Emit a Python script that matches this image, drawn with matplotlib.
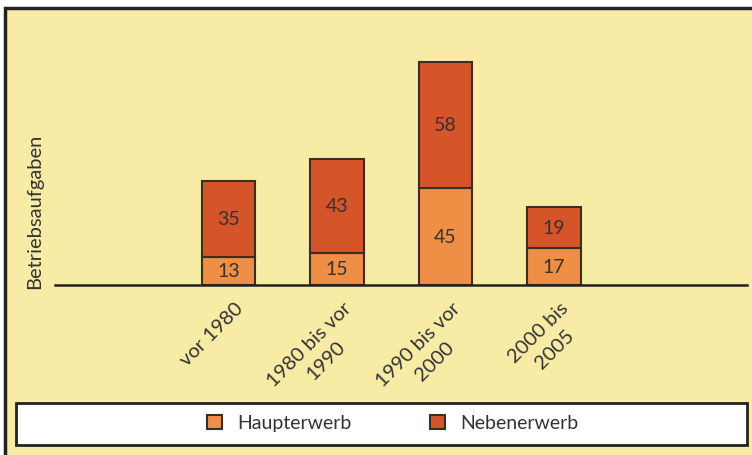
import matplotlib.pyplot as plt
import matplotlib.patches as patches
import matplotlib.transforms as mtransforms
import numpy as np

plt.rcParams['font.family'] = ['Lato', 'DejaVu Sans']

categories = ["vor 1980", "1980 bis vor\n1990", "1990 bis vor\n2000", "2000 bis\n2005"]
haupterwerb = [13, 15, 45, 17]
nebenerwerb = [35, 43, 58, 19]

bg = '#F7EBA5'
c_haupt = '#EE8F45'
c_neben = '#D5542A'
edge = '#3a2e25'
txt = '#333333'

fig = plt.figure(figsize=(7.52, 4.56), dpi=100)
fig.patch.set_facecolor('white')

# yellow panel with dark border (cut off at right/bottom)
panel = patches.Rectangle((5 / 752, -0.1), 1.1, 1.1 - 9 / 456, transform=fig.transFigure,
                          facecolor=bg, edgecolor='#222222', linewidth=2.5, zorder=-10)
fig.patches.append(panel)

ax = fig.add_axes([55 / 752, (456 - 286) / 456, 692 / 752, 266 / 456])
ax.set_zorder(2)
ax.set_facecolor('none')
x = np.arange(len(categories))
w = 0.49
b1 = ax.bar(x, haupterwerb, w, color=c_haupt, edgecolor=edge, linewidth=1.5, label='Haupterwerb')
b2 = ax.bar(x, nebenerwerb, w, bottom=haupterwerb, color=c_neben, edgecolor=edge, linewidth=1.5,
            label='Nebenerwerb')

for i in range(len(categories)):
    ax.text(x[i], haupterwerb[i] / 2, str(haupterwerb[i]), ha='center', va='center',
            fontsize=14, color=txt)
    ax.text(x[i], haupterwerb[i] + nebenerwerb[i] / 2, str(nebenerwerb[i]), ha='center',
            va='center', fontsize=14, color=txt)

ax.set_xlim(-1.599, 4.779)
ax.set_ylim(0, 266 / 2.165)
for s in ['top', 'right', 'left']:
    ax.spines[s].set_visible(False)
ax.spines['bottom'].set_color('#222222')
ax.spines['bottom'].set_linewidth(1.8)
ax.set_yticks([])
ax.set_xticks(x)
ax.set_xticklabels(categories, rotation=45, ha='right', rotation_mode='anchor',
                   multialignment='center', fontsize=14.5, color=txt, linespacing=1.4)
ax.tick_params(axis='x', length=0, pad=10)
shift = mtransforms.ScaledTranslation(6 / 100, 0, fig.dpi_scale_trans)
for lab in ax.get_xticklabels():
    lab.set_transform(lab.get_transform() + shift)

fig.text(35 / 752, (456 - 211) / 456, 'Betriebsaufgaben', rotation=90, ha='center',
         va='center', fontsize=14.5, color=txt)

# legend box
lbox = patches.Rectangle((16 / 752, (456 - 446) / 456), 731 / 752, 42 / 456,
                         transform=fig.transFigure, facecolor='white', edgecolor='#222222',
                         linewidth=2, zorder=1)
fig.patches.append(lbox)
leg = fig.legend(handles=[b1, b2], loc='center', bbox_to_anchor=(393 / 752, (456 - 424) / 456),
                 ncol=2, frameon=False, fontsize=14, handlelength=0.75, handleheight=0.75,
                 columnspacing=4.05, handletextpad=0.8)
leg.set_zorder(5)
for t in leg.get_texts():
    t.set_color(txt)

fig.savefig('out.png', dpi=100, facecolor=fig.get_facecolor())
